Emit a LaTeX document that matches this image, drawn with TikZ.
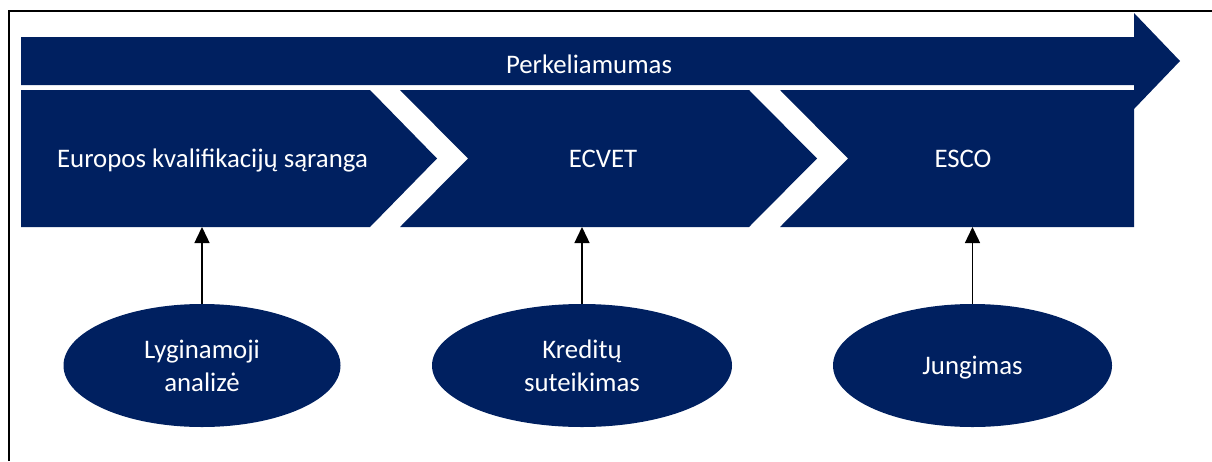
\documentclass[tikz,border=0pt]{standalone}
\usepackage{fontspec}
\setmainfont{Carlito}
\usepackage{tikz}
\usetikzlibrary{arrows.meta,calc,positioning,shapes.geometric}
\definecolor{navy}{HTML}{002060}

\begin{document}
\begin{tikzpicture}[x=1pt,y=-1pt,>={Triangle[width=15pt,length=16pt]},
  band/.style={fill=navy,draw=none},
  lbl/.style={text=white,font=\fontsize{26.8}{33}\selectfont,anchor=base,inner sep=0pt},
  oval/.style={ellipse,fill=navy,text=white,font=\fontsize{26.8}{33}\selectfont,
    align=center,minimum height=123pt,inner sep=0pt}]
\useasboundingbox (0,0) rectangle (1212,461);
\draw[line width=2pt] (8.5,461)--(8.5,10.5)--(1212,10.5);
% big arrow
\fill[band] (21,37)--(1134,37)--(1134,13)--(1180,61)--(1134,109)--(1134,85)--(21,85)--cycle;
\node[lbl] (perk) at (589,73.3) {Perkeliamumas};
% chevrons
\fill[band] (21,90)--(370,90)--(437,158.5)--(370,227)--(21,227)--cycle;
\fill[band] (400,90)--(749,90)--(817,158.5)--(749,227)--(400,227)--(468,158.5)--cycle;
\fill[band] (780,90)--(1134,90)--(1134,227)--(780,227)--(848,158.5)--cycle;
\node[lbl] (eqf) at (212.5,167.3) {Europos kvalifikacijų sąranga};
\node[lbl] (ecvet) at (603,167.3) {ECVET};
\node[lbl] (esco) at (963,167.3) {ESCO};
\coordinate (rowbot) at (0,227);
% ovals and arrows
\foreach \x/\w/\n/\t in {202/277/lyg/{Lyginamoji\\analizė},582/300/kred/{Kreditų\\suteikimas},972.5/279/jung/{\raisebox{0pt}[17pt][0pt]{Jungimas}}}{
  \node[oval,minimum width=\w pt] (\n) at (\x,365.5) {\t};
  \draw[->,line width=1.4pt] (\n) -- (\n |- rowbot);
}
\end{tikzpicture}
\end{document}
